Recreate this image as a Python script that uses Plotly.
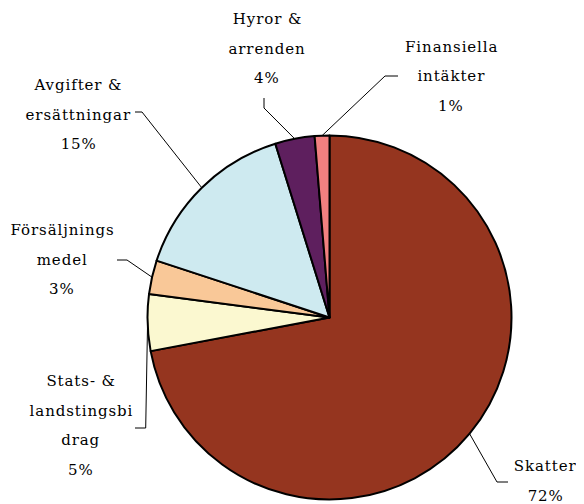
import math
import plotly.graph_objects as go

# ---- data ----
labels = ["Skatter", "Stats- & landstingsbidrag", "Försäljningsmedel",
          "Avgifter & ersättningar", "Hyror & arrenden", "Finansiella intäkter"]
values = [71.9, 5.0, 3.0, 15.1, 3.5, 1.3]
label_lines = [["Skatter"],
               ["Stats- &", "landstingsbi", "drag"],
               ["Försäljnings", "medel"],
               ["Avgifter &", "ersättningar"],
               ["Hyror &", "arrenden"],
               ["Finansiella", "intäkter"]]
colors = ["#95351F", "#FBF8D0", "#F9C898", "#CEEAF0", "#5E1F5E", "#F28080"]

# ---- layout constants (pixels, in window coordinates) ----
W, H = 584, 504
OFF = 8  # page body margin
FONT = "DejaVu Serif, serif"
FS = 15
LINE_H = 29.5
# pie geometry in window pixels
PCX, PCY, PR = 329.5, 317.5, 182
# first text line centre (x, y) for each label block
label_pos = [(545, 466), (81, 381), (62, 230), (78, 85), (267, 19), (451, 47)]
# leader: elbow and end points for each slice
leaders = [((497, 482), (508, 482)),
           ((145.7, 428), (135, 428)),
           ((127, 260), (117, 260)),
           ((142, 112), (135, 112)),
           ((264, 108), (264, 98)),
           ((385, 76), (398, 76))]


def px(x):
    return (x - OFF) / W


def py(y):
    return 1 - (y - OFF) / H


dom_x = [px(PCX - PR), px(PCX + PR)]
dom_y = [py(PCY + PR), py(PCY - PR)]

fig = go.Figure(go.Pie(
    labels=labels, values=values, sort=False, direction="clockwise", rotation=0,
    marker=dict(colors=colors, line=dict(color="#000000", width=2)),
    textinfo="none", hoverinfo="label+percent",
    domain=dict(x=dom_x, y=dom_y), showlegend=False,
))

total = sum(values)
annotations = []
shapes = []
cum = 0.0
for i, v in enumerate(values):
    mid = (cum + v / 2) / total * 2 * math.pi
    cum += v
    ex = PCX + PR * math.sin(mid)
    ey = PCY - PR * math.cos(mid)
    (bx, by), (qx, qy) = leaders[i]
    shapes.append(dict(
        type="path", xref="paper", yref="paper",
        path=f"M {px(ex)},{py(ey)} L {px(bx)},{py(by)} L {px(qx)},{py(qy)}",
        line=dict(color="#000000", width=1),
    ))
    lines = label_lines[i] + [f"{round(v / total * 100)}%"]
    lx, ly = label_pos[i]
    for k, t in enumerate(lines):
        annotations.append(dict(
            x=px(lx), y=py(ly + k * LINE_H), xref="paper", yref="paper",
            text=t, showarrow=False, xanchor="center", yanchor="middle",
            font=dict(family=FONT, size=FS, color="#000000"),
        ))

fig.update_layout(
    width=W, height=H, margin=dict(l=0, r=0, t=0, b=0),
    paper_bgcolor="white", plot_bgcolor="white",
    annotations=annotations, shapes=shapes,
)

spacing_js = (
    "var s=document.createElement('style');"
    "s.textContent='.annotation-text{letter-spacing:0.9px}';"
    "document.head.appendChild(s);"
)
fig.write_html("out.html", post_script=spacing_js)
